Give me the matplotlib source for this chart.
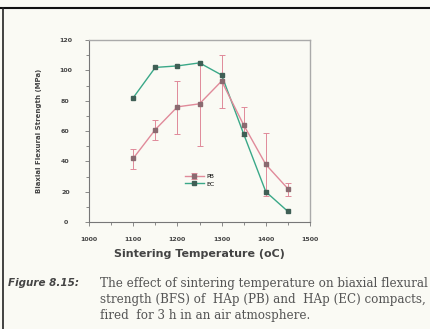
import numpy as np
import matplotlib
matplotlib.use('Agg')
import matplotlib.pyplot as plt
from matplotlib.lines import Line2D

# sintering temperature (oC)
temps = [1100, 1150, 1200, 1250, 1300, 1350, 1400, 1450]

# biaxial flexural strength (MPa)
bfs_pb = [42, 61, 76, 78, 93, 64, 38, 22]
err_pb_lo = [7, 7, 18, 28, 18, 7, 21, 5]
err_pb_hi = [6, 6, 17, 26, 17, 12, 21, 4]
bfs_ec = [82, 102, 103, 105, 97, 58, 20, 7]

x_ticks = [1000, 1100, 1200, 1300, 1400, 1500]
y_ticks = [0, 20, 40, 60, 80, 100, 120]

bg = '#fafaf4'
pink = '#e08a9a'
teal = '#3aa888'

fig = plt.figure(figsize=(4.31, 3.29), dpi=100, facecolor=bg)
ax = fig.add_axes([0.2065, 0.325, 0.5128, 0.553], facecolor=bg)

ax.errorbar(temps, bfs_pb, yerr=[err_pb_lo, err_pb_hi], color=pink, lw=1.0,
            ecolor=pink, elinewidth=0.7, capsize=2, capthick=0.7,
            marker='s', ms=3.5, mfc='#8a6a70', mec='#8a6a70', label='PB')
ax.plot(temps, bfs_ec, color=teal, lw=1.0, marker='s', ms=3.5,
        mfc='#3f5f55', mec='#3f5f55', label='EC')

ax.set_xlim(1000, 1500)
ax.set_ylim(0, 120)
ax.set_xticks(x_ticks)
ax.set_yticks(y_ticks)
ax.set_xticks(np.arange(1000, 1501, 50), minor=True)
ax.set_yticks(np.arange(0, 121, 10), minor=True)
ax.tick_params(which='both', direction='out', color='#777777', width=0.6,
               labelsize=4.5, labelcolor='#444444')
ax.tick_params(which='major', length=3)
ax.tick_params(axis='x', which='major', pad=8)
ax.tick_params(axis='y', which='major', pad=14)
ax.tick_params(which='minor', length=2)
for lab in ax.get_xticklabels() + ax.get_yticklabels():
    lab.set_fontweight('bold')
for lab in ax.get_yticklabels():
    lab.set_horizontalalignment('center')

for s in ['left', 'bottom']:
    ax.spines[s].set_color('#777777')
    ax.spines[s].set_linewidth(0.8)
for s in ['top', 'right']:
    ax.spines[s].set_color('#aaaaaa')
    ax.spines[s].set_linewidth(1.0)

ax.set_xlabel('Sintering Temperature (oC)', fontsize=8, fontweight='bold',
              color='#444444', labelpad=5)
ax.set_ylabel('Biaxial Flexural Strength (MPa)', fontsize=5, fontweight='bold',
              color='#444444', labelpad=12)

handles, labels = ax.get_legend_handles_labels()
order = [labels.index('PB'), labels.index('EC')]
ax.legend([handles[i] for i in order], [labels[i] for i in order],
          loc='center', bbox_to_anchor=(0.5, 0.23), fontsize=4.5, frameon=False,
          handlelength=3, labelspacing=0.3, handletextpad=0.4)

# page border
fig.add_artist(Line2D([0, 1], [1 - 8 / 329, 1 - 8 / 329], transform=fig.transFigure,
                      color='#111111', lw=1.5))
fig.add_artist(Line2D([3 / 431, 3 / 431], [0, 1 - 8 / 329], transform=fig.transFigure,
                      color='#222222', lw=1.2))

# caption
fig.text(8 / 431, 1 - 283 / 329, 'Figure 8.15:', fontsize=7.5, fontweight='bold',
         style='italic', color='#444444', va='center')
cap = ('The effect of sintering temperature on biaxial flexural\n'
       'strength (BFS) of  HAp (PB) and  HAp (EC) compacts,\n'
       'fired  for 3 h in an air atmosphere.')
fig.text(100 / 431, 1 - 277 / 329, cap, fontsize=8.6, family='DejaVu Serif',
         color='#555555', va='top', linespacing=1.3)

fig.savefig('out.png', dpi=100, facecolor=bg)
